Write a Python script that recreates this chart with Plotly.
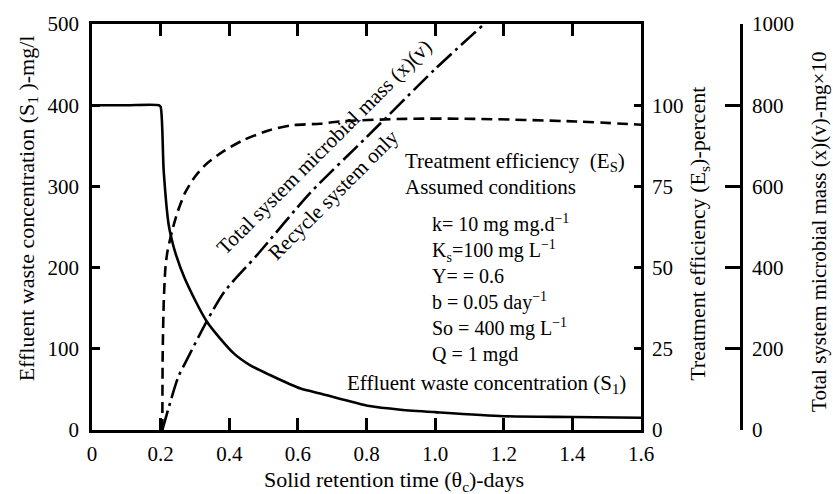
import plotly.graph_objects as go

# ---------------- data ----------------
x_ticks = [0, 0.2, 0.4, 0.6, 0.8, 1.0, 1.2, 1.4, 1.6]
x_ticktext = ["0", "0.2", "0.4", "0.6", "0.8", "1.0", "1.2", "1.4", "1.6"]
s1_ticks = [0, 100, 200, 300, 400, 500]
eff_ticks = [0, 25, 50, 75, 100]
mass_ticks = [0, 200, 400, 600, 800, 1000]

# Effluent waste concentration S1 (mg/l), left axis
theta_s1 = [0.0, 0.1, 0.195, 0.2, 0.209, 0.223, 0.231, 0.243, 0.271, 0.334, 0.414,
            0.46, 0.517, 0.608, 0.665, 0.809, 0.9, 1.0, 1.2, 1.4, 1.6]
s1 = [400, 400, 400, 398, 319, 254, 237, 218, 186, 134, 94, 80, 68, 51, 45, 29.5,
      25, 22, 17, 16, 15]

# Treatment efficiency Es (percent), middle axis
theta_eff = [0.205, 0.206, 0.209, 0.214, 0.220, 0.234, 0.249, 0.271, 0.300, 0.334,
             0.386, 0.442, 0.517, 0.580, 0.665, 0.720, 0.915, 1.110, 1.410, 1.600]
eff = [0, 23, 39, 50, 55, 61.5, 67, 73, 78, 82, 86, 89.3, 92.3, 93.8, 94.3, 95,
       95.8, 95.8, 95, 94]

# Total system microbial mass (x)(v) (mg x10), far right axis
theta_mass = [0.205, 0.251, 0.271, 0.334, 0.386, 0.480, 0.636, 0.800, 1.000, 1.143]
mass = [0, 130, 164, 267, 341, 430, 584, 721, 889, 1000]

# assumed conditions text lines
conditions = ["k= 10 mg mg.d<sup>\u22121</sup>",
              "K<sub>s</sub>=100 mg L<sup>\u22121</sup>",
              "Y= = 0.6",
              "b = 0.05 day<sup>\u22121</sup>",
              "So = 400 mg L<sup>\u22121</sup>",
              "Q = 1 mgd"]

# ---------------- figure ----------------
FONT = "Liberation Serif, Times New Roman, serif"
W, H = 833, 494
ML, MR, MT, MB = 92, 92, 16, 64
PW = W - ML - MR
PH = H - MT - MB
XDOM_END = (641 - ML) / PW


def px(xp):
    return (xp - ML) / PW


def py(yp):
    return (H - MB - yp) / PH


fig = go.Figure()
fig.add_trace(go.Scatter(x=theta_s1, y=s1, mode="lines", yaxis="y",
                         line=dict(color="black", width=2.6, shape="spline", smoothing=0.7),
                         showlegend=False))
fig.add_trace(go.Scatter(x=theta_eff, y=eff, mode="lines", yaxis="y2",
                         line=dict(color="black", width=2.6, dash="11px,6px",
                                   shape="spline", smoothing=0.7),
                         showlegend=False))
fig.add_trace(go.Scatter(x=theta_mass, y=mass, mode="lines", yaxis="y3",
                         line=dict(color="black", width=2.6, dash="20px,5px,3px,5px",
                                   shape="spline", smoothing=0.7),
                         showlegend=False))

tickfont = dict(family=FONT, size=21, color="black")
axis_common = dict(showgrid=False, zeroline=False, showline=True, linecolor="black",
                   linewidth=2.5, tickcolor="black", tickwidth=2.5, tickfont=tickfont)

fig.update_layout(
    width=W, height=H,
    margin=dict(l=ML, r=MR, t=MT, b=MB),
    paper_bgcolor="white", plot_bgcolor="white",
    font=dict(family=FONT, size=21, color="black"),
    xaxis=dict(domain=[0, XDOM_END], range=[0, 1.6], tickvals=x_ticks,
               ticktext=x_ticktext, ticks="inside", ticklen=12, mirror="ticks",
               ticklabelstandoff=3, **axis_common),
    yaxis=dict(range=[0, 500], tickvals=s1_ticks, ticks="inside", ticklen=8,
               ticklabelstandoff=6, **axis_common),
    yaxis2=dict(range=[0, 125], tickvals=eff_ticks, ticks="inside", ticklen=7,
                overlaying="y", side="right", anchor="x", ticklabelstandoff=4,
                **axis_common),
    yaxis3=dict(range=[0, 1000], tickvals=mass_ticks, ticks="inside", ticklen=15,
                overlaying="y", side="right", anchor="free", position=1.0,
                ticklabelstandoff=5, **axis_common),
)

ann = []


def add(text, x, y, xanchor="left", angle=0, size=21):
    ann.append(dict(text=text, x=x, y=y, xref="paper", yref="paper",
                    xanchor=xanchor, yanchor="middle", showarrow=False, align="left",
                    textangle=angle, font=dict(family=FONT, size=size, color="black")))


# axis titles
add("Effluent waste concentration (S<sub>1</sub> )-mg/l", px(28), py(204), "center", -90, 22)
add("Treatment efficiency (E<sub>s</sub>)-percent", px(699), py(230), "center", -90, 22)
add("Total system microbial mass (x)(v)-mg\u00d710", px(819), py(228), "center", -90, 21)
add("Solid retention time (\u03b8<sub>c</sub>)-days", px(394), py(482), "center", 0, 22)

# in-plot labels
add("Treatment efficiency  (E<sub>S</sub>)", px(403), py(157))
add("Assumed conditions", px(403), py(182))
add("<br>".join(conditions), px(430), py(286), size=20)
add("Effluent waste concentration (S<sub>1</sub>)", px(628), py(383), "right")
add("Total system microbial mass (x)(v)", px(324), py(141), "center", -45, 21)
add("Recycle system only", px(333), py(190), "center", -45, 21)

fig.update_layout(annotations=ann)
fig.write_html("out.html")
